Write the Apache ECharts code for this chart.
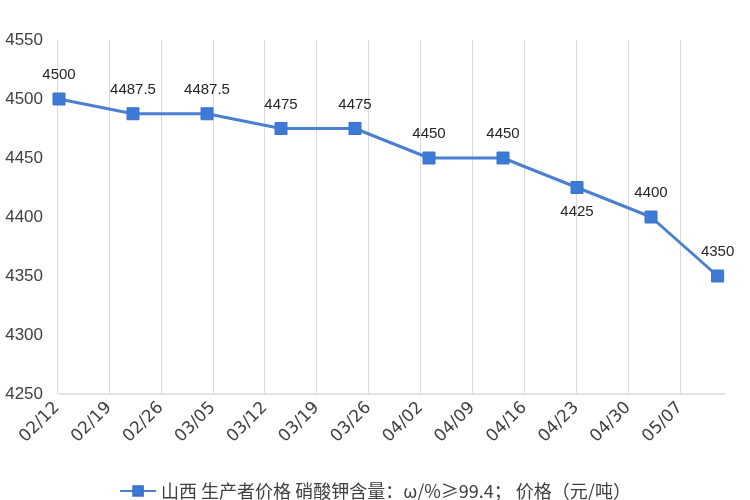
<!DOCTYPE html>
<html>
<head>
<meta charset="utf-8">
<script src="https://cdn.jsdelivr.net/npm/echarts@6/dist/echarts.min.js"></script>
<style>html,body{margin:0;padding:0;background:#fff;}#main{width:750px;height:500px;}</style>
</head>
<body>
<div id="main"></div>
<script>
// ---- data ----
const startDate = '2021-02-12';
const dates = ['2021-02-12','2021-02-22','2021-03-04','2021-03-14','2021-03-24','2021-04-03','2021-04-13','2021-04-23','2021-05-03','2021-05-12'];
const prices = [4500, 4487.5, 4487.5, 4475, 4475, 4450, 4450, 4425, 4400, 4350];
const labelBelow = [false, false, false, false, false, false, false, true, false, false];
const tickLabels = ['02/12','02/19','02/26','03/05','03/12','03/19','03/26','04/02','04/09','04/16','04/23','04/30','05/07'];
const seriesName = '山西 生产者价格 硝酸钾含量：ω/%≥99.4； 价格（元/吨）';
const yMin = 4250, yMax = 4550, yStep = 50;

const DAY = 86400000;
const t0 = new Date(startDate + 'T00:00:00Z').getTime();
const dayOffsets = dates.map(d => (new Date(d + 'T00:00:00Z').getTime() - t0) / DAY);
const lastTick = (tickLabels.length - 1) * 7;

const seriesData = prices.map((p, i) => ({
  value: [dayOffsets[i], p],
  label: { position: labelBelow[i] ? 'bottom' : 'top' }
}));

const chart = echarts.init(document.getElementById('main'));
chart.setOption({
  backgroundColor: '#ffffff',
  animation: false,
  grid: [
    { left: 59, right: 25, top: 40, bottom: 106 },
    { left: 57, right: 70, top: 40, bottom: 106 }
  ],
  xAxis: [
    {
      type: 'value', gridIndex: 0, min: 0, max: 90,
      axisLine: { show: true, lineStyle: { color: '#d9d9d9', width: 1.5 } },
      axisTick: { show: false }, axisLabel: { show: false }, splitLine: { show: false }
    },
    {
      type: 'value', gridIndex: 1, min: 0, max: lastTick, interval: 7,
      axisLine: { show: false }, axisTick: { show: false },
      splitLine: { show: true, lineStyle: { color: '#d9d9d9', width: 1 } },
      axisLabel: {
        rotate: 45, margin: 11, color: '#404040', fontSize: 17,
        fontFamily: 'DejaVu Sans',
        formatter: v => tickLabels[Math.round(v / 7)] || ''
      }
    }
  ],
  yAxis: [
    {
      type: 'value', gridIndex: 0, min: yMin, max: yMax, interval: yStep,
      axisLine: { show: false }, axisTick: { show: false },
      splitLine: { show: false },
      axisLabel: { color: '#404040', fontSize: 17, fontFamily: 'Liberation Sans', margin: 16,
        formatter: v => String(v) }
    },
    {
      type: 'value', gridIndex: 1, min: 0, max: 1, show: false
    }
  ],
  legend: {
    left: 'center', top: 477,
    itemWidth: 36, itemHeight: 12, itemGap: 10,
    textStyle: { color: '#404040', fontSize: 18, fontFamily: 'Noto Sans CJK SC' },
    data: [seriesName]
  },
  series: [{
    name: seriesName,
    type: 'line',
    xAxisIndex: 0, yAxisIndex: 0,
    data: seriesData,
    symbol: 'rect', symbolSize: 12,
    lineStyle: { color: '#4a80d0', width: 3 },
    itemStyle: { color: '#3d7ad6', borderColor: '#3a72c8', borderWidth: 1 },
    label: {
      show: true, distance: 10, color: '#262626', fontSize: 15,
      fontFamily: 'Liberation Sans',
      formatter: p => String(p.value[1])
    }
  }]
});
</script>
</body>
</html>
